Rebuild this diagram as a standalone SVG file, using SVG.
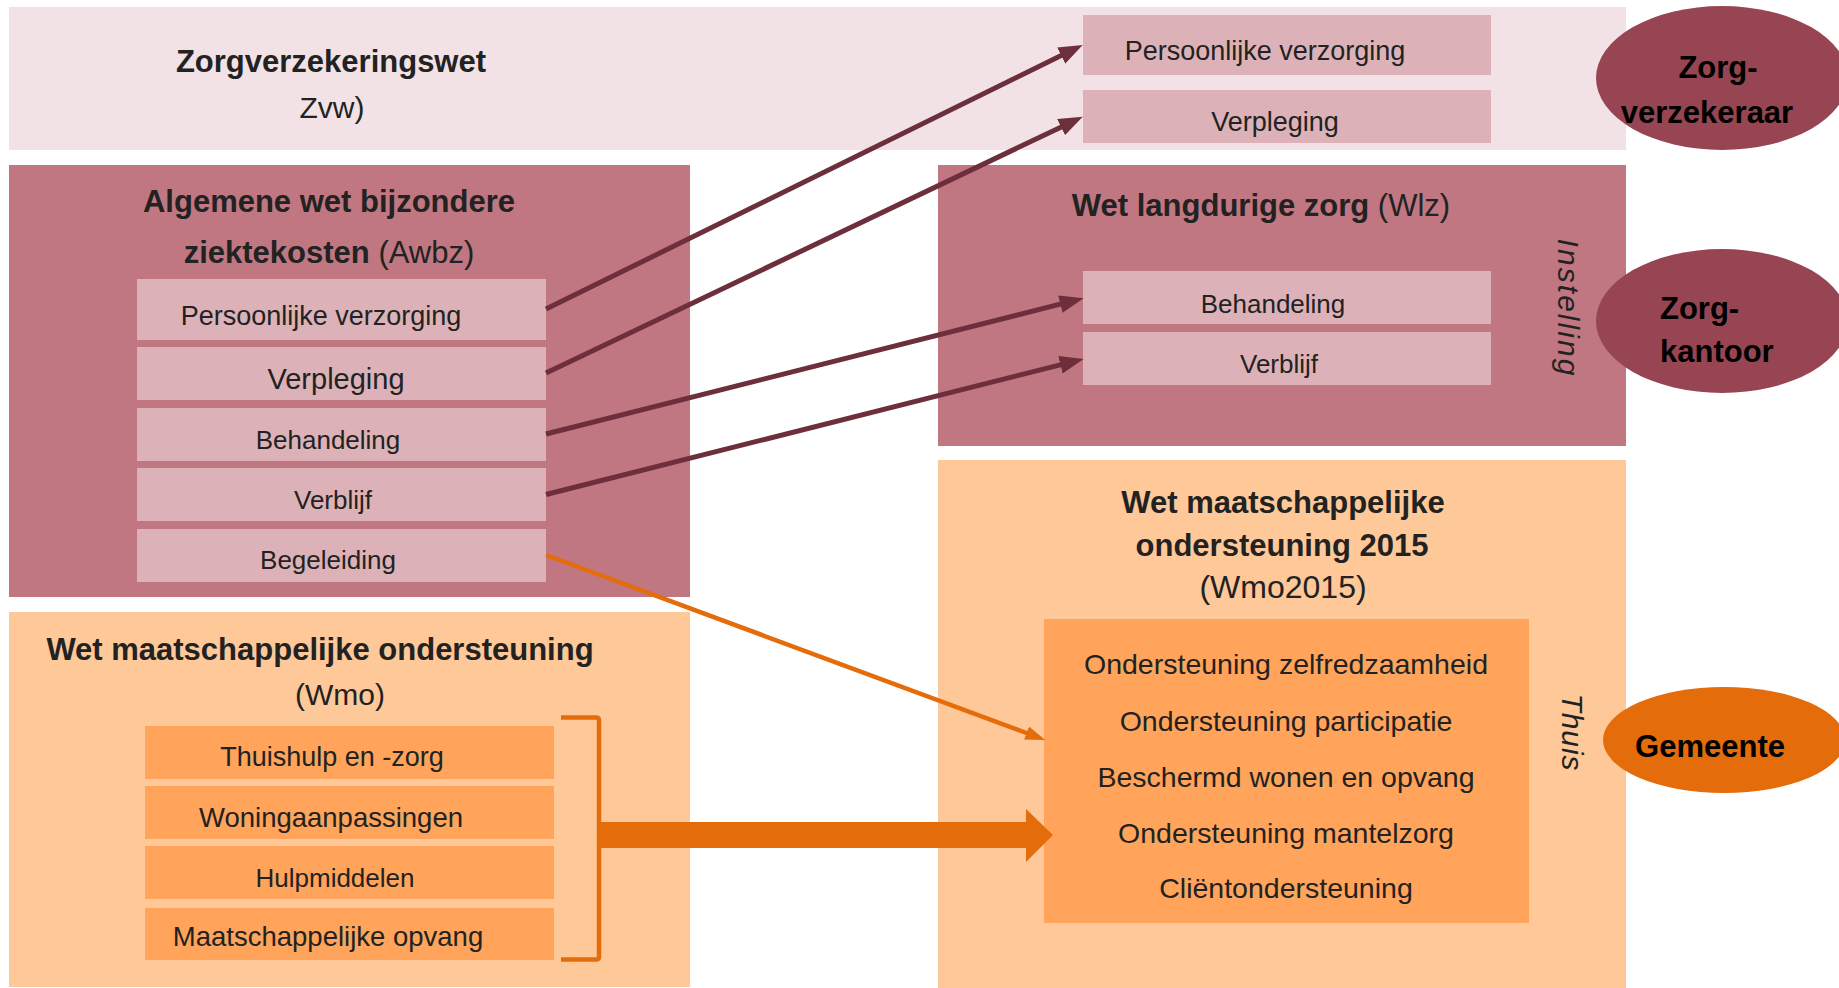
<svg xmlns="http://www.w3.org/2000/svg" width="1839" height="988" viewBox="0 0 1839 988">
<defs>
<style>
text{font-family:"Liberation Sans",Arial,sans-serif;fill:#222;}
.t{font-size:31px;font-weight:bold;}
.r{font-weight:normal;}
.s{font-size:26px;}
.m{text-anchor:middle;}
.band{fill:#f2e2e6;}
.mauve{fill:#c07781;}
.pink{fill:#dcb2b8;}
.lor{fill:#fec898;}
.or{fill:#ffa45a;}
.ell{fill:#974552;}
.eo{fill:#e46c0a;}
.el{font-size:31px;font-weight:bold;fill:#000;}
.rot{font-size:30px;font-style:italic;text-anchor:middle;}
.dk{stroke:#6c2f3b;stroke-width:5;fill:none;}
.og{stroke:#e46c0a;stroke-width:4.5;fill:none;}
</style>
<marker id="ad" markerUnits="userSpaceOnUse" markerWidth="26" markerHeight="20" refX="12" refY="9" orient="auto" viewBox="0 0 26 20">
<path d="M0,0 L24,9 L0,18 Z" fill="#6c2f3b"/>
</marker>
<marker id="ao" markerUnits="userSpaceOnUse" markerWidth="22" markerHeight="16" refX="10" refY="7" orient="auto" viewBox="0 0 22 16">
<path d="M0,0 L20,7 L0,14 Z" fill="#e46c0a"/>
</marker>
</defs>
<rect width="1839" height="988" fill="#ffffff"/>

<g id="zvw">
<rect class="band" x="9" y="7" width="1617" height="143"/>
<text class="t m" x="331" y="72">Zorgverzekeringswet</text>
<text class="m" x="332" y="118" font-size="30">Zvw)</text>
<g id="zvw-pv">
<rect class="pink" x="1083" y="15" width="408" height="60"/>
<text class="m" x="1265" y="60" font-size="27">Persoonlijke verzorging</text>
</g>
<g id="zvw-vp">
<rect class="pink" x="1083" y="90" width="408" height="53"/>
<text class="m" x="1275" y="131" font-size="27">Verpleging</text>
</g>
</g>

<g id="awbz">
<rect class="mauve" x="9" y="165" width="681" height="432"/>
<text class="t m" x="329" y="212">Algemene wet bijzondere</text>
<text class="t m" x="329" y="263">ziektekosten <tspan class="r">(Awbz)</tspan></text>
<g id="awbz-pv">
<rect class="pink" x="137" y="279" width="409" height="61"/>
<text class="m" x="321" y="325" font-size="27">Persoonlijke verzorging</text>
</g>
<g id="awbz-vp">
<rect class="pink" x="137" y="347" width="409" height="53"/>
<text class="m" x="336" y="389" font-size="29">Verpleging</text>
</g>
<g id="awbz-bh">
<rect class="pink" x="137" y="408" width="409" height="53"/>
<text class="m s" x="328" y="449">Behandeling</text>
</g>
<g id="awbz-vb">
<rect class="pink" x="137" y="468" width="409" height="53"/>
<text class="m s" x="333" y="509">Verblijf</text>
</g>
<g id="awbz-bg">
<rect class="pink" x="137" y="529" width="409" height="53"/>
<text class="m s" x="328" y="569">Begeleiding</text>
</g>
</g>

<g id="wlz">
<rect class="mauve" x="938" y="165" width="688" height="281"/>
<text class="t m" x="1261" y="216">Wet langdurige zorg <tspan class="r">(Wlz)</tspan></text>
<g id="wlz-bh">
<rect class="pink" x="1083" y="271" width="408" height="53"/>
<text class="m s" x="1273" y="313">Behandeling</text>
</g>
<g id="wlz-vb">
<rect class="pink" x="1083" y="332" width="408" height="53"/>
<text class="m s" x="1279" y="373">Verblijf</text>
</g>
<text class="rot" transform="translate(1558,307) rotate(90)" textLength="137">Instelling</text>
</g>

<g id="wmo">
<rect class="lor" x="9" y="612" width="681" height="375"/>
<text class="t m" x="320" y="660">Wet maatschappelijke ondersteuning</text>
<text class="m" x="340" y="705" font-size="30">(Wmo)</text>
<g id="wmo-th">
<rect class="or" x="145" y="726" width="409" height="53"/>
<text class="m" x="332" y="766" font-size="27">Thuishulp en -zorg</text>
</g>
<g id="wmo-wa">
<rect class="or" x="145" y="786" width="409" height="53"/>
<text class="m" x="331" y="827" font-size="27.5">Woningaanpassingen</text>
</g>
<g id="wmo-hm">
<rect class="or" x="145" y="846" width="409" height="53"/>
<text class="m s" x="335" y="887">Hulpmiddelen</text>
</g>
<g id="wmo-mo">
<rect class="or" x="145" y="908" width="409" height="52"/>
<text class="m" x="328" y="946" font-size="27.5">Maatschappelijke opvang</text>
</g>
</g>

<g id="wmo2015">
<rect class="lor" x="938" y="460" width="688" height="528"/>
<text class="t m" x="1283" y="513" font-size="32">Wet maatschappelijke</text>
<text class="t m" x="1282" y="556" font-size="32">ondersteuning 2015</text>
<text class="m" x="1283" y="598" font-size="32">(Wmo2015)</text>
<rect class="or" x="1044" y="619" width="485" height="304"/>
<g font-size="28.5">
<text class="m" x="1286" y="674">Ondersteuning zelfredzaamheid</text>
<text class="m" x="1286" y="731">Ondersteuning participatie</text>
<text class="m" x="1286" y="787">Beschermd wonen en opvang</text>
<text class="m" x="1286" y="843">Ondersteuning mantelzorg</text>
<text class="m" x="1286" y="898">Cliëntondersteuning</text>
</g>
<text class="rot" transform="translate(1562,732) rotate(90)" textLength="77">Thuis</text>
</g>

<g id="zorgverzekeraar">
<ellipse class="ell" cx="1722" cy="78" rx="126" ry="72"/>
<text class="el m" x="1718" y="78">Zorg-</text>
<text class="el m" x="1707" y="123">verzekeraar</text>
</g>

<g id="zorgkantoor">
<ellipse class="ell" cx="1722" cy="321" rx="126" ry="72"/>
<text class="el" x="1660" y="319">Zorg-</text>
<text class="el" x="1660" y="362">kantoor</text>
</g>

<g id="gemeente">
<ellipse class="eo" cx="1724" cy="740" rx="121" ry="53"/>
<text class="el m" x="1710" y="757">Gemeente</text>
</g>

<g id="connectors">
<line class="dk" x1="546" y1="309" x2="1071.9" y2="50.3" marker-end="url(#ad)"/>
<line class="dk" x1="546" y1="373" x2="1071.9" y2="121.9" marker-end="url(#ad)"/>
<line class="dk" x1="546" y1="434" x2="1072" y2="301.2" marker-end="url(#ad)"/>
<line class="dk" x1="546" y1="494.5" x2="1072" y2="361.9" marker-end="url(#ad)"/>
<line class="og" x1="546" y1="555" x2="1035.9" y2="736.5" marker-end="url(#ao)"/>
<path d="M561,717.5 H596 Q599,717.5 599,720.5 V956.5 Q599,959.5 596,959.5 H561" fill="none" stroke="#e46c0a" stroke-width="4.5"/>
<polygon points="599,822 1026,822 1026,809 1053,835 1026,862 1026,848 599,848" fill="#e46c0a"/>
</g>
</svg>
